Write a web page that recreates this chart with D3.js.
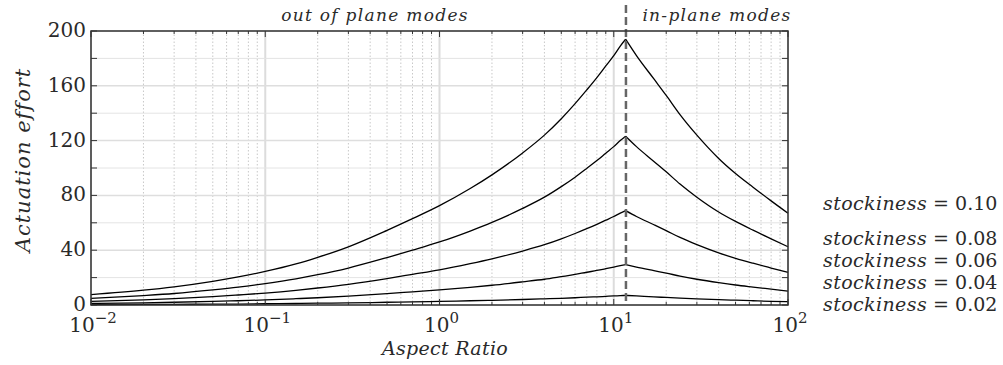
<!DOCTYPE html>
<html>
<head>
<meta charset="utf-8">
<script src="https://cdn.jsdelivr.net/npm/d3@7"></script>
<style>
  body { margin: 0; background: #fff; }
  svg { display: block; }
</style>
</head>
<body>
<svg id="chart" width="1003" height="365" font-family="DejaVu Serif"></svg>
<script>
// aspect ratios where the curves were read
var aspectRatio = [0.01, 0.02, 0.03, 0.05, 0.07, 0.1, 0.15, 0.2, 0.3, 0.5, 0.7, 1, 1.5, 2, 3, 4, 5, 6, 7, 8, 9, 10, 10.9, 11.7,
  13.5, 17, 20, 24, 30, 40, 50, 63, 80, 100];
var peakIndex = 23;

// actuation effort, one array per stockiness
var effort010 = [7.6, 10.8, 13.3, 17.3, 20.5, 24.5, 30, 34.8, 42.5, 54.5, 63, 72.5, 85, 95, 111, 124, 136, 147, 157, 166, 174.5, 182, 189, 194,
  182, 165, 153, 139, 124, 107, 96, 86, 76, 67];
var effort008 = [4.8, 6.9, 8.4, 11, 13, 15.6, 19.1, 22.1, 27, 34.6, 40, 46, 54, 60.3, 70.5, 78.7, 86.4, 93.3, 99.7, 105.4, 110.8, 115.6, 120, 123.2,
  115.6, 104.8, 97.2, 88.3, 78.7, 67.9, 61, 54.6, 48.3, 42.5];
var effort006 = [2.7, 3.8, 4.7, 6.1, 7.3, 8.7, 10.7, 12.4, 15.1, 19.3, 22.4, 25.7, 30.2, 33.7, 39.4, 44, 48.3, 52.2, 55.7, 58.9, 61.9, 64.6, 67.1, 68.9,
  64.6, 58.6, 54.3, 49.3, 44, 38, 34.1, 30.5, 27, 23.8];
var effort004 = [1.2, 1.6, 2, 2.6, 3.1, 3.7, 4.6, 5.3, 6.5, 8.3, 9.6, 11, 12.9, 14.4, 16.9, 18.8, 20.7, 22.3, 23.9, 25.2, 26.5, 27.7, 28.7, 29.5,
  27.7, 25.1, 23.3, 21.1, 18.8, 16.3, 14.6, 13.1, 11.6, 10.2];
var effort002 = [0.3, 0.4, 0.5, 0.6, 0.7, 0.9, 1.1, 1.3, 1.5, 2, 2.3, 2.6, 3.1, 3.4, 4, 4.5, 4.9, 5.3, 5.7, 6, 6.3, 6.6, 6.8, 7,
  6.6, 5.9, 5.5, 5, 4.5, 3.9, 3.5, 3.1, 2.7, 2.4];

var seriesNames = ["0.10", "0.08", "0.06", "0.04", "0.02"];
var seriesValues = [effort010, effort008, effort006, effort004, effort002];

var yTicks = [0, 40, 80, 120, 160, 200];
var yMinor = [20, 60, 100, 140, 180];
var xDecades = [0.01, 0.1, 1, 10, 100];
var transitionAR = 11.75;

var svg = d3.select("#chart");
var padL = 91, padR = 788, padT = 31, padB = 305;

var x = d3.scaleLog().domain([0.01, 100]).range([padL, padR]);
var y = d3.scaleLinear().domain([0, 200]).range([padB, padT]);

// minor decade values
var xMinor = [];
xDecades.slice(0, -1).forEach(function(d) {
  for (var k = 2; k <= 9; k++) xMinor.push(d * k);
});

// <------- grid ------->
var grid = svg.append("g");
grid.selectAll(".vminor").data(xMinor).enter().append("line")
  .attr("x1", d => x(d)).attr("x2", d => x(d))
  .attr("y1", padT).attr("y2", padB)
  .attr("stroke", "#c8c8c8").attr("stroke-width", 1)
  .attr("stroke-dasharray", "1.5,2");
grid.selectAll(".vmajor").data(xDecades).enter().append("line")
  .attr("x1", d => x(d)).attr("x2", d => x(d))
  .attr("y1", padT).attr("y2", padB)
  .attr("stroke", "#dcdcdc").attr("stroke-width", 2);
grid.selectAll(".hminor").data(yMinor).enter().append("line")
  .attr("x1", padL).attr("x2", padR)
  .attr("y1", d => y(d)).attr("y2", d => y(d))
  .attr("stroke", "#e4e4e4").attr("stroke-width", 1);
grid.selectAll(".hmajor").data(yTicks).enter().append("line")
  .attr("x1", padL).attr("x2", padR)
  .attr("y1", d => y(d)).attr("y2", d => y(d))
  .attr("stroke", "#dedede").attr("stroke-width", 1.5);

// <------- curves: rising part and falling part, each smoothed ------->
var line = d3.line()
  .curve(d3.curveMonotoneX)
  .x(function(d) { return x(d[0]); })
  .y(function(d) { return y(d[1]); });

seriesValues.forEach(function(vals) {
  var pts = vals.map(function(v, i) { return [aspectRatio[i], v]; });
  [pts.slice(0, peakIndex + 1), pts.slice(peakIndex)].forEach(function(part) {
    svg.append("path")
      .datum(part)
      .attr("d", line)
      .attr("fill", "none")
      .attr("stroke", "#000")
      .attr("stroke-width", 1.3);
  });
});

// <------- transition line ------->
svg.append("line")
  .attr("x1", x(transitionAR)).attr("x2", x(transitionAR))
  .attr("y1", 5).attr("y2", padB)
  .attr("stroke", "#666").attr("stroke-width", 2.5)
  .attr("stroke-dasharray", "8,4");

// <------- axes box with inward ticks ------->
var ax = svg.append("g").attr("stroke", "#333");
var allY = yTicks.concat(yMinor);
ax.selectAll(".tl").data(allY).enter().append("line")
  .attr("x1", padL).attr("x2", padL + 6).attr("y1", d => y(d)).attr("y2", d => y(d));
ax.selectAll(".tr").data(allY).enter().append("line")
  .attr("x1", padR).attr("x2", padR - 6).attr("y1", d => y(d)).attr("y2", d => y(d));
ax.selectAll(".tb").data(xMinor).enter().append("line")
  .attr("x1", d => x(d)).attr("x2", d => x(d)).attr("y1", padB).attr("y2", padB - 3);
ax.selectAll(".tt").data(xMinor).enter().append("line")
  .attr("x1", d => x(d)).attr("x2", d => x(d)).attr("y1", padT).attr("y2", padT + 3);
ax.selectAll(".tbm").data(xDecades).enter().append("line")
  .attr("x1", d => x(d)).attr("x2", d => x(d)).attr("y1", padB).attr("y2", padB - 6);
ax.selectAll(".ttm").data(xDecades).enter().append("line")
  .attr("x1", d => x(d)).attr("x2", d => x(d)).attr("y1", padT).attr("y2", padT + 6);
ax.append("rect")
  .attr("x", padL).attr("y", padT)
  .attr("width", padR - padL).attr("height", padB - padT)
  .attr("fill", "none").attr("stroke-width", 1.5);

// <------- tick labels ------->
svg.selectAll(".ylab").data(yTicks).enter().append("text")
  .attr("x", padL - 5).attr("y", d => y(d)).attr("dy", "0.3em")
  .attr("text-anchor", "end").attr("font-size", 20).attr("fill", "#2a2a2a")
  .text(d => d);

var xl = svg.selectAll(".xlab").data(xDecades).enter().append("text")
  .attr("x", d => x(d) + 2).attr("y", 332)
  .attr("text-anchor", "middle").attr("font-size", 20).attr("fill", "#2a2a2a");
xl.append("tspan").text("10");
xl.append("tspan").attr("dy", -9).attr("font-size", 15)
  .text(d => String(Math.round(Math.log10(d))).replace("-", "\u2212"));

// <------- axis titles ------->
svg.append("text")
  .attr("x", 445).attr("y", 355)
  .attr("text-anchor", "middle").attr("font-size", 19).attr("font-style", "italic")
  .attr("letter-spacing", 0.3).attr("fill", "#2a2a2a")
  .text("Aspect Ratio");

svg.append("text")
  .attr("transform", "translate(30,160) rotate(-90)")
  .attr("text-anchor", "middle").attr("font-size", 21).attr("font-style", "italic")
  .attr("letter-spacing", 1).attr("fill", "#2a2a2a")
  .text("Actuation effort");

svg.append("text")
  .attr("x", 375).attr("y", 21)
  .attr("text-anchor", "middle").attr("font-size", 17).attr("font-style", "italic")
  .attr("letter-spacing", 1.3).attr("fill", "#2a2a2a")
  .text("out of plane modes");

svg.append("text")
  .attr("x", 717).attr("y", 21)
  .attr("text-anchor", "middle").attr("font-size", 17).attr("font-style", "italic")
  .attr("letter-spacing", 1.3).attr("fill", "#2a2a2a")
  .text("in-plane modes");

// <------- stockiness labels ------->
var legendY = [210, 245, 267, 289, 311];
var lg = svg.selectAll(".leg").data(seriesNames).enter().append("text")
  .attr("x", 823).attr("y", (d, i) => legendY[i])
  .attr("font-size", 19).attr("fill", "#2a2a2a");
lg.append("tspan").attr("font-style", "italic").attr("letter-spacing", 0.4).text("stockiness");
lg.append("tspan").text(d => " = " + d);
</script>
</body>
</html>
